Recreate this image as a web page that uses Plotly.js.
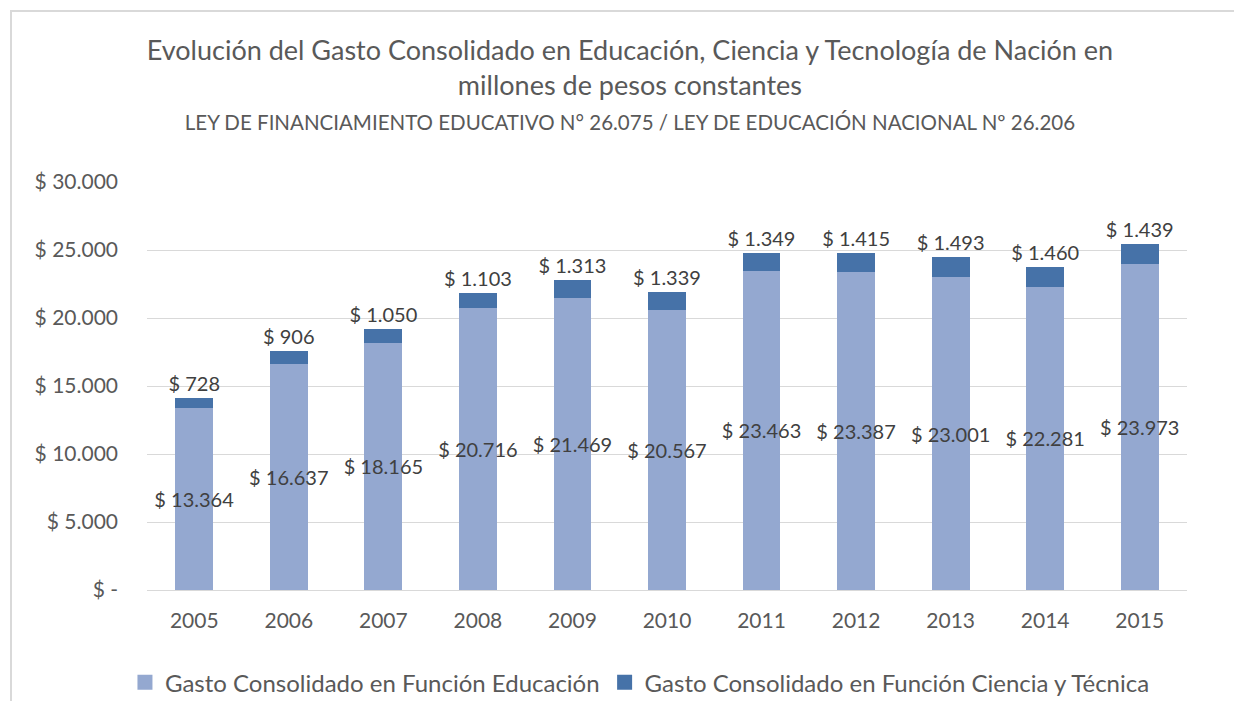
<!DOCTYPE html>
<html>
<head>
<meta charset="utf-8">
<script src="https://cdn.plot.ly/plotly-3.0.1.min.js"></script>
<style>
  html, body { margin: 0; padding: 0; background: #ffffff; }
  #chart { width: 1234px; height: 701px; }
  #frame { position: absolute; left: 10px; top: 10px; width: 1300px; height: 800px;
           border-left: 2px solid #d9d9d9; border-top: 2px solid #d9d9d9; pointer-events: none; }
</style>
</head>
<body>
<div id="chart"></div>
<div id="frame"></div>
<script>
const years = ['2005','2006','2007','2008','2009','2010','2011','2012','2013','2014','2015'];
const educacion = [13364, 16637, 18165, 20716, 21469, 20567, 23463, 23387, 23001, 22281, 23973];
const ciencia = [728, 906, 1050, 1103, 1313, 1339, 1349, 1415, 1493, 1460, 1439];
const tickValues = [0, 5000, 10000, 15000, 20000, 25000, 30000];
const tickLabels = ['$ -', '$ 5.000', '$ 10.000', '$ 15.000', '$ 20.000', '$ 25.000', '$ 30.000'];
const seriesNames = ['Gasto Consolidado en Función Educación', 'Gasto Consolidado en Función Ciencia y Técnica'];
const seriesColors = ['#94A8D0', '#4672A8'];

const FONT = 'Lato, "Open Sans", sans-serif';
const GRAY = '#595959';

const traces = [
  {
    type: 'bar', x: years, y: educacion, name: seriesNames[0], showlegend: false,
    marker: { color: seriesColors[0] },
    texttemplate: '$ %{y:,.0f}', textposition: 'inside', insidetextanchor: 'middle',
    textangle: 0, constraintext: 'none',
    insidetextfont: { family: FONT, size: 20, color: '#404040' },
    hoverinfo: 'skip'
  },
  {
    type: 'bar', x: years, y: ciencia, name: seriesNames[1], showlegend: false,
    marker: { color: seriesColors[1] },
    texttemplate: '$ %{y:,.0f}', textposition: 'outside',
    textangle: 0, constraintext: 'none', cliponaxis: false,
    outsidetextfont: { family: FONT, size: 20, color: '#404040' },
    hoverinfo: 'skip'
  },
  {
    type: 'scatter', mode: 'markers', x: [null], y: [null], name: seriesNames[0],
    marker: { symbol: 'square', size: 15, color: seriesColors[0] }, hoverinfo: 'skip'
  },
  {
    type: 'scatter', mode: 'markers', x: [null], y: [null], name: seriesNames[1],
    marker: { symbol: 'square', size: 15, color: seriesColors[1] }, hoverinfo: 'skip'
  }
];

const layout = {
  width: 1234, height: 701,
  separators: ',.',
  barmode: 'stack', bargap: 0.6,
  paper_bgcolor: '#ffffff', plot_bgcolor: '#ffffff',
  font: { family: FONT, color: GRAY, size: 20 },
  margin: { l: 147, r: 47, t: 182, b: 111 },
  title: {
    text: 'Evolución del Gasto Consolidado en Educación, Ciencia y Tecnología de Nación en<br>millones de pesos constantes<br><span style="font-size:20.5px">LEY DE FINANCIAMIENTO EDUCATIVO N° 26.075 / LEY DE EDUCACIÓN NACIONAL Nº 26.206</span>',
    font: { family: FONT, size: 27, color: GRAY },
    x: 0.5105, xanchor: 'center', y: 0.915, yanchor: 'top'
  },
  xaxis: {
    type: 'category', showgrid: false, zeroline: false,
    showline: false, ticks: '',
    tickfont: { family: FONT, size: 21, color: GRAY },
    ticklabelstandoff: 16
  },
  yaxis: {
    range: [0, 30000], tickvals: tickValues, ticktext: tickLabels,
    showgrid: true, gridcolor: '#d9d9d9', gridwidth: 1,
    zeroline: true, zerolinecolor: '#d9d9d9', zerolinewidth: 1,
    showline: false, ticks: '',
    tickfont: { family: FONT, size: 21, color: GRAY },
    ticklabelstandoff: 28
  },
  showlegend: true,
  legend: {
    orientation: 'h', x: 0.474, xanchor: 'center', yref: 'container', y: 0.026, yanchor: 'middle',
    font: { family: FONT, size: 24, color: GRAY },
    traceorder: 'normal', itemwidth: 30
  }
};

Plotly.newPlot('chart', traces, layout, { displayModeBar: false, staticPlot: true });
</script>
</body>
</html>
